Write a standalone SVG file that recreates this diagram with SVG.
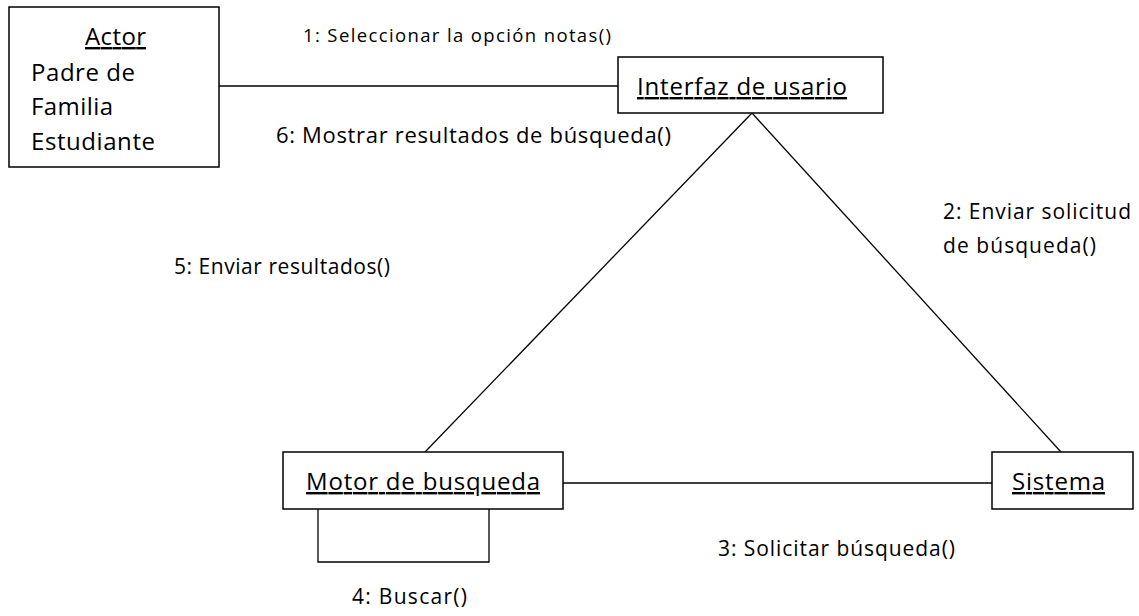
<svg xmlns="http://www.w3.org/2000/svg" width="1139" height="616" viewBox="0 0 1139 616">
<style>
.box{fill:#fff;stroke:#000;stroke-width:1.5}
.ln{fill:none;stroke:#000;stroke-width:1.3}
text{font-family:"Open Sans","Noto Sans",sans-serif;fill:#000}
.n{font-size:24px}
.l{font-size:21px}
.u{text-decoration:underline}
</style>
<rect width="1139" height="616" fill="#fff"/>
<g id="connectors">
<line class="ln" x1="219" y1="86" x2="618" y2="86"/>
<line class="ln" x1="752" y1="113" x2="425" y2="452"/>
<line class="ln" x1="752" y1="113" x2="1061" y2="452"/>
<line class="ln" x1="563" y1="483" x2="992" y2="483"/>
<polyline class="ln" points="318,509 318,562 489,562 489,509"/>
</g>
<g id="labels">
<text class="l" x="303" y="42" style="font-size:18.5px" textLength="308">1: Seleccionar la opción notas()</text>
<text class="l" x="276" y="143" style="font-size:22px" textLength="395">6: Mostrar resultados de búsqueda()</text>
<text class="l" x="943" y="219" textLength="188">2: Enviar solicitud</text>
<text class="l" x="943" y="253" textLength="153">de búsqueda()</text>
<text class="l" x="174" y="274" textLength="216">5: Enviar resultados()</text>
<text class="l" x="718" y="556" textLength="237">3: Solicitar búsqueda()</text>
<text class="l" x="352" y="604" textLength="115">4: Buscar()</text>
</g>
<g id="actor">
<rect class="box" x="9" y="7" width="210" height="160"/>
<text class="n u" x="85" y="45" textLength="61">Actor</text>
<text class="n" x="31" y="81" textLength="104">Padre de</text>
<text class="n" x="31" y="115" textLength="82">Familia</text>
<text class="n" x="31" y="150" textLength="124">Estudiante</text>
</g>
<g id="interfaz">
<rect class="box" x="618" y="57" width="265" height="56"/>
<text class="n u" x="637" y="95" textLength="210">Interfaz de usario</text>
</g>
<g id="motor">
<rect class="box" x="283" y="452" width="280" height="57"/>
<text class="n u" x="306" y="490" textLength="234">Motor de busqueda</text>
</g>
<g id="sistema">
<rect class="box" x="992" y="452" width="141" height="57"/>
<text class="n u" x="1012" y="490" textLength="93">Sistema</text>
</g>
</svg>
